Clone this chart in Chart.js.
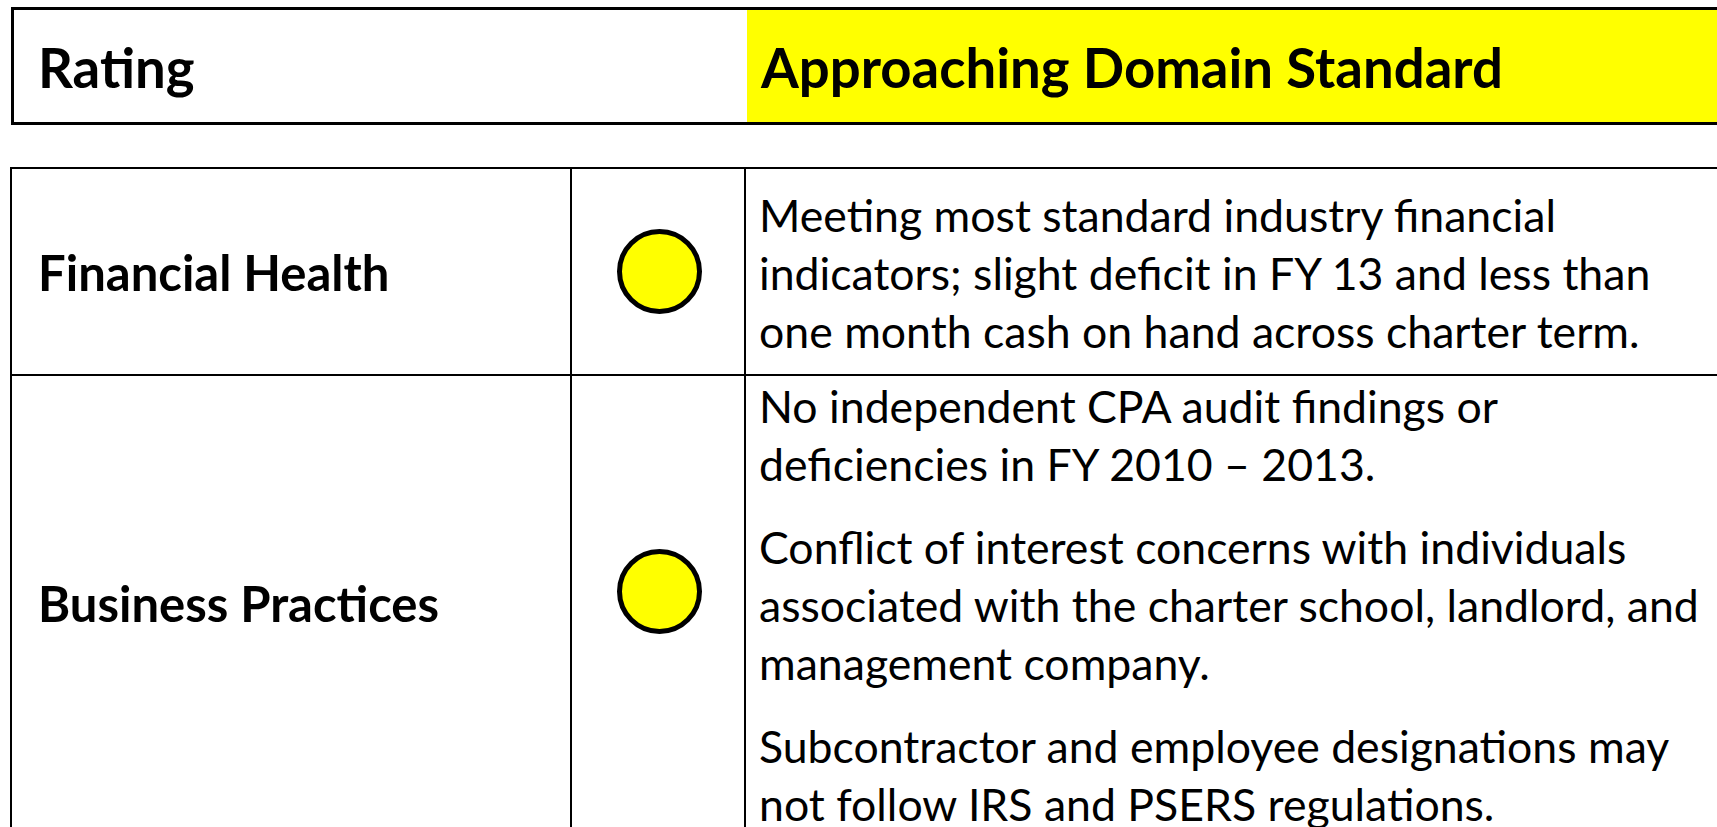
<!DOCTYPE html>
<html>
<head>
<meta charset="utf-8">
<script src="https://cdn.jsdelivr.net/npm/chart.js@4.4.0/dist/chart.umd.min.js"></script>
<style>
  html, body { margin: 0; padding: 0; background: #fff; }
  body { width: 1717px; height: 827px; overflow: hidden; position: relative; font-family: 'Lato', 'Liberation Sans', sans-serif; color: #000; }
  .abs { position: absolute; white-space: nowrap; line-height: 58px; }
  .hline, .vline { position: absolute; background: #000; }
  canvas { position: absolute; }
</style>
</head>
<body>
<script>
// Datos de la tabla
const overallLabel = 'Rating';
const overallRating = 'Approaching Domain Standard';
const domains = ['Financial Health', 'Business Practices'];
const ratings = ['Approaching', 'Approaching'];
const ratingColors = { 'Approaching': '#FFFF00' };
const details = [
    [
        ['Meeting most standard industry financial',
         'indicators; slight deficit in FY 13 and less than',
         'one month cash on hand across charter term.']
    ],
    [
        ['No independent CPA audit findings or',
         'deficiencies in FY 2010 \u2013 2013.'],
        ['Conflict of interest concerns with individuals',
         'associated with the charter school, landlord, and',
         'management company.'],
        ['Subcontractor and employee designations may',
         'not follow IRS and PSERS regulations.']
    ]
];

// helpers de maquetación
function box(cls, css) {
    const d = document.createElement('div');
    d.className = cls;
    Object.assign(d.style, css);
    document.body.appendChild(d);
    return d;
}
function text(str, left, top, size, weight) {
    const d = box('abs', { left: left + 'px', top: top + 'px', fontSize: size + 'px', fontWeight: weight });
    d.textContent = str;
    return d;
}

// Cabecera "Rating"
box('', { position: 'absolute', left: '11px', top: '7px', width: '1800px', height: '118px',
          border: '3px solid #000', borderRight: 'none', boxSizing: 'border-box' });
box('', { position: 'absolute', left: '747px', top: '10px', width: '1000px', height: '112px',
          background: ratingColors[ratings[0]] });
text(overallLabel, 38, 38, 54.5, 700);
text(overallRating, 761, 38, 54.5, 700);

// Líneas de la tabla
const rowTops = [167, 374];
const colLines = [10, 570, 744];
box('hline', { left: '10px', top: rowTops[0] + 'px', width: '1800px', height: '2px' });
box('hline', { left: '10px', top: rowTops[1] + 'px', width: '1800px', height: '2px' });
colLines.forEach(x => box('vline', { left: x + 'px', top: rowTops[0] + 'px', width: '2px', height: '900px' }));

// Etiquetas de dominio
const labelTops = [243, 574];
domains.forEach((d, i) => text(d, 38, labelTops[i], 49, 700));

// Texto de detalle
const detailTops = [186, 377];
const paraGap = 25;
details.forEach((paras, i) => {
    let y = detailTops[i];
    paras.forEach(lines => {
        lines.forEach(line => { text(line, 759, y, 44.6, 400); y += 58; });
        y += paraGap;
    });
});

// Círculos de calificación con Chart.js
const cellBoxes = [[169, 205], [376, 431]];
domains.forEach((d, i) => {
    const cv = document.createElement('canvas');
    cv.width = 173;
    cv.height = cellBoxes[i][1];
    cv.style.left = '573px';
    cv.style.top = cellBoxes[i][0] + 'px';
    document.body.appendChild(cv);
    new Chart(cv.getContext('2d'), {
        type: 'scatter',
        data: {
            datasets: [{
                data: [{ x: ratings[i], y: d }],
                backgroundColor: ratingColors[ratings[i]],
                borderColor: '#000000',
                borderWidth: 5,
                pointRadius: 40,
                pointHoverRadius: 40
            }]
        },
        options: {
            responsive: false,
            animation: false,
            events: [],
            layout: { padding: 0 },
            plugins: { legend: { display: false }, tooltip: { enabled: false } },
            scales: {
                x: { type: 'category', labels: [ratings[i]], offset: true, display: false },
                y: { type: 'category', labels: [d], offset: true, display: false }
            }
        }
    });
});
</script>
</body>
</html>
